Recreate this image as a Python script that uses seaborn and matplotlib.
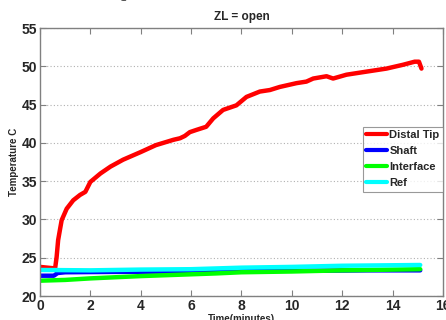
import numpy as np
import pandas as pd
from matplotlib import pyplot as plt
import seaborn as sb

sb.set_style("ticks")
plt.rcParams['font.family'] = ['Liberation Sans', 'DejaVu Sans']

# Distal tip readings (minutes, deg C)
tip_t = [0.0, 0.3, 0.6, 0.66, 0.72, 0.8, 0.86, 1.06, 1.32, 1.59, 1.8, 2.0,
         2.4, 2.8, 3.3, 4.0, 4.6, 5.3, 5.56, 5.75, 5.95, 6.22, 6.6, 6.88,
         7.27, 7.8, 8.2, 8.73, 9.13, 9.52, 10.19, 10.58, 10.85, 11.38,
         11.64, 12.17, 12.96, 13.76, 14.42, 14.88, 15.05, 15.15]
tip_T = [23.8, 23.7, 23.6, 25.1, 27.3, 28.8, 29.9, 31.4, 32.5, 33.2, 33.6,
         34.9, 36.0, 36.9, 37.8, 38.8, 39.7, 40.4, 40.6, 40.9, 41.4, 41.7,
         42.1, 43.2, 44.3, 44.9, 46.0, 46.7, 46.9, 47.3, 47.8, 48.0, 48.4,
         48.7, 48.4, 48.9, 49.3, 49.7, 50.2, 50.6, 50.6, 49.7]

shaft_t = [0.0, 0.55, 0.7, 1.0, 3.0, 6.0, 8.0, 11.0, 13.0, 15.1]
shaft_T = [22.65, 22.65, 23.0, 23.1, 23.15, 23.2, 23.3, 23.3, 23.35, 23.35]

iface_t = [0.0, 1.0, 2.0, 4.0, 7.0, 8.0, 10.0, 12.0, 15.1]
iface_T = [22.0, 22.1, 22.3, 22.6, 22.95, 23.1, 23.2, 23.35, 23.5]

ref_t = [0.0, 2.0, 4.0, 6.0, 8.0, 10.0, 12.0, 15.1]
ref_T = [23.4, 23.35, 23.45, 23.5, 23.7, 23.8, 23.95, 24.05]

series = [("Distal Tip", tip_t, tip_T, "#ff0000"),
          ("Shaft", shaft_t, shaft_T, "#0000ff"),
          ("Interface", iface_t, iface_T, "#00ff00"),
          ("Ref", ref_t, ref_T, "#00ffff")]

fig = plt.figure(figsize=(4.46, 3.2), dpi=100)
ax = fig.add_axes([0.0897, 0.075, 0.9033, 0.8375])

for name, t, T, col in series:
    df = pd.DataFrame({"t": t, "T": T})
    sb.lineplot(data=df, x="t", y="T", ax=ax, color=col, lw=3.2,
                label=name, estimator=None, sort=False)

ax.set_xlim(0, 16)
ax.set_ylim(20, 55)
ax.set_xticks(np.arange(0, 17, 2))
ax.set_yticks(np.arange(20, 56, 5))
ax.yaxis.grid(True, ls=(0, (1, 2)), color="#b0b0b0", lw=0.8)
ax.xaxis.grid(False)
ax.tick_params(direction="in", top=True, right=True, length=4,
               color="#808080", labelsize=10, pad=2)
for lab in ax.get_xticklabels() + ax.get_yticklabels():
    lab.set_fontweight("bold")
for s in ax.spines.values():
    s.set_color("#808080")
    s.set_linewidth(1.0)

ax.set_title("ZL = open", fontsize=8.5, fontweight="semibold", pad=6)
ax.set_xlabel("Time(minutes)", fontsize=7, fontweight="bold", labelpad=1)
ax.set_ylabel("Temperature C", fontsize=7, fontweight="bold", labelpad=2)

leg = ax.legend(loc="upper right", bbox_to_anchor=(1.0, 0.632),
                prop=dict(size=8, weight="semibold"), frameon=True,
                fancybox=False, handlelength=1.9, handletextpad=0.2,
                borderpad=0.3, labelspacing=0.55, borderaxespad=0.0)
leg.get_frame().set_edgecolor("#808080")
leg.get_frame().set_linewidth(0.8)
for h in leg.get_lines():
    h.set_linewidth(3.0)

# heading of the page above, mostly cut off
fig.text(0.16, 1.026, "Z = open case", fontsize=13, family="serif",
         color="#555555", va="center")

fig.savefig("out.png", dpi=100)
